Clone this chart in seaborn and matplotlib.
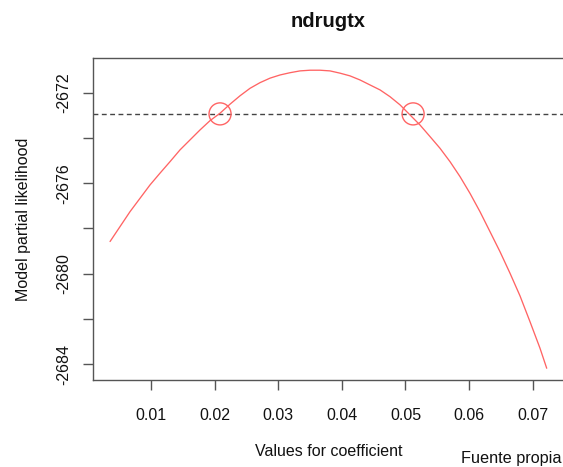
import matplotlib
matplotlib.use("Agg")
import matplotlib.pyplot as plt
import seaborn as sns
import pandas as pd

# Data
coef_values = [0.00356, 0.00513, 0.00670, 0.00827, 0.00984, 0.01141, 0.01299,
               0.01456, 0.01613, 0.01770, 0.01927, 0.02085, 0.02242, 0.02399,
               0.02556, 0.02713, 0.02871, 0.03028, 0.03185, 0.03342, 0.03499,
               0.03656, 0.03814, 0.03971, 0.04128, 0.04285, 0.04442, 0.04600,
               0.04757, 0.04914, 0.05228, 0.05385, 0.05543, 0.05700, 0.05857,
               0.06014, 0.06171, 0.06328, 0.06486, 0.06643, 0.06800, 0.06957,
               0.07114, 0.07220]
loglik_values = [-2678.58, -2677.92, -2677.26, -2676.67, -2676.08, -2675.56, -2675.05,
                 -2674.53, -2674.09, -2673.65, -2673.24, -2672.91, -2672.51, -2672.14,
                 -2671.81, -2671.56, -2671.36, -2671.22, -2671.12, -2671.04, -2671.01,
                 -2671.01, -2671.04, -2671.14, -2671.26, -2671.44, -2671.66, -2671.88,
                 -2672.18, -2672.54, -2673.43, -2673.94, -2674.46, -2675.05, -2675.71,
                 -2676.45, -2677.26, -2678.14, -2679.03, -2679.98, -2680.98, -2682.12,
                 -2683.29, -2684.18]
ci_x = [0.02085, 0.05120]
ci_y = [-2672.94, -2672.94]
threshold = -2672.94
x_ticks = [0.01, 0.02, 0.03, 0.04, 0.05, 0.06, 0.07]
x_tick_labels = ["0.01", "0.02", "0.03", "0.04", "0.05", "0.06", "0.07"]
y_ticks = [-2684, -2682, -2680, -2678, -2676, -2674, -2672]
y_tick_labels = ["-2684", "", "-2680", "", "-2676", "", "-2672"]

sns.set_theme(style="ticks")
plt.rcParams['font.family'] = ['Liberation Sans', 'DejaVu Sans']

fig = plt.figure(figsize=(5.63, 4.67), dpi=100)
ax = fig.add_axes([93/563, 1 - 380/467, (564 - 93)/563, (380 - 58)/467])

df = pd.DataFrame({"coef": coef_values, "loglik": loglik_values})
sns.lineplot(data=df, x="coef", y="loglik", ax=ax, color="#ff6464", lw=0.95, sort=False)
ax.axhline(threshold, color="#444444", lw=1.0, ls=(0, (3.5, 2.5)), zorder=1)
sns.scatterplot(x=ci_x, y=ci_y, ax=ax, s=22**2 * 0.52, facecolor="none",
                edgecolor="#ff6464", linewidth=1.0, marker="o", zorder=3)

ax.set_xlim(0.00088, 0.07492)
ax.set_ylim(-2684.70, -2670.47)
ax.set_xticks(x_ticks)
ax.set_xticklabels(x_tick_labels)
ax.set_yticks(y_ticks)
ax.set_yticklabels(y_tick_labels, rotation=90, va="center")

for side in ["left", "bottom", "top", "right"]:
    ax.spines[side].set_color("#555555")
    ax.spines[side].set_linewidth(1.0)

ax.tick_params(axis="both", length=7.5, width=1.0, color="#555555",
               labelsize=11.5, labelcolor="#111111")
ax.tick_params(axis="x", pad=12.5)
ax.tick_params(axis="y", pad=8.5)

ax.set_xlabel("Values for coefficient", fontsize=11.5, color="#111111", labelpad=15)
ax.set_ylabel("Model partial likelihood", fontsize=11.5, color="#111111", labelpad=18)
ax.set_title("ndrugtx", fontsize=14.5, fontweight="bold", pad=22, color="#111111")

fig.text(461/563, 1 - 458/467, "Fuente propia", fontsize=11.7, color="#111111",
         ha="left", va="center")

fig.savefig("out.png", dpi=100)
